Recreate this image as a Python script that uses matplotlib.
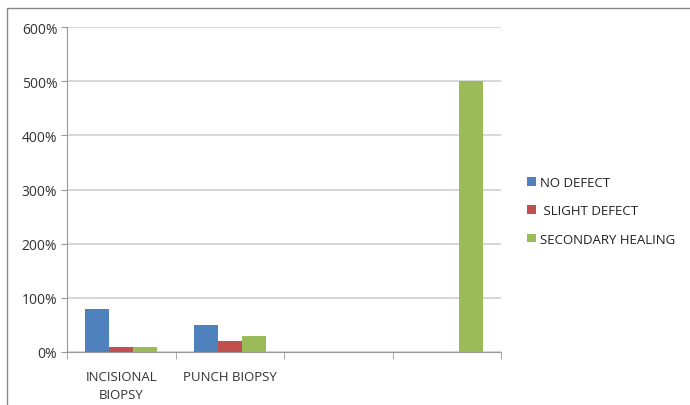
import numpy as np
import matplotlib
matplotlib.use("Agg")
import matplotlib.pyplot as plt
from matplotlib.patches import Rectangle
from matplotlib.ticker import FuncFormatter

categories = ["INCISIONAL\nBIOPSY", "PUNCH BIOPSY", "", ""]
series = ["NO DEFECT", " SLIGHT DEFECT", "SECONDARY HEALING"]
no_defect = [0.8, 0.5, 0.0, 0.0]
slight_defect = [0.1, 0.2, 0.0, 0.0]
secondary_healing = [0.1, 0.3, 0.0, 5.0]
colors = ["#4F81BD", "#C0504D", "#9BBB59"]

plt.rcParams['font.family'] = ['Open Sans', 'DejaVu Sans']

fig = plt.figure(figsize=(6.9, 4.06), dpi=100)
W, H = 690, 406
ax = fig.add_axes([67 / W, (H - 353) / H, (501 - 67) / W, (353 - 28) / H])

# outer chart border
fig.patches.append(Rectangle((7 / W, -0.1), 1.2, (H - 9) / H + 0.1,
                             transform=fig.transFigure, fill=False,
                             edgecolor="#888888", linewidth=1.0))

x = np.arange(len(categories))
bw = 1 / 4.5
for i, (vals, name) in enumerate(zip([no_defect, slight_defect, secondary_healing], series)):
    ax.bar(x + (i - 1) * bw, vals, width=bw, color=colors[i], label=name, zorder=3)

ax.set_xlim(-0.5, len(categories) - 0.5)
ax.set_ylim(0, 6)
ax.set_yticks(np.arange(0, 7, 1))
ax.yaxis.set_major_formatter(FuncFormatter(lambda v, p: f"{int(round(v * 100))}%"))
ax.grid(axis="y", color="#D4D4D4", linewidth=1.3, zorder=0)

ax.set_xticks(x)
ax.set_xticklabels(categories, fontsize=9.5, color="#333333", linespacing=1.45)
ax.set_xticks(np.arange(-0.5, len(categories), 1), minor=True)
ax.tick_params(axis="x", which="major", length=0, pad=13)
ax.tick_params(axis="x", which="minor", length=5, color="#999999")
ax.tick_params(axis="y", length=4, color="#999999", labelsize=10, labelcolor="#333333", pad=3)

for s in ["top", "right"]:
    ax.spines[s].set_visible(False)
ax.spines["left"].set_color("#999999")
ax.spines["bottom"].set_color("#999999")

leg = fig.legend(loc="upper left", bbox_to_anchor=(522 / W, (H - 172) / H),
                 frameon=False, fontsize=9.5, handlelength=0.65, handleheight=0.65,
                 handletextpad=0.35, labelspacing=1.15, borderaxespad=0)
for t in leg.get_texts():
    t.set_color("#222222")

fig.savefig("out.png", dpi=100)
